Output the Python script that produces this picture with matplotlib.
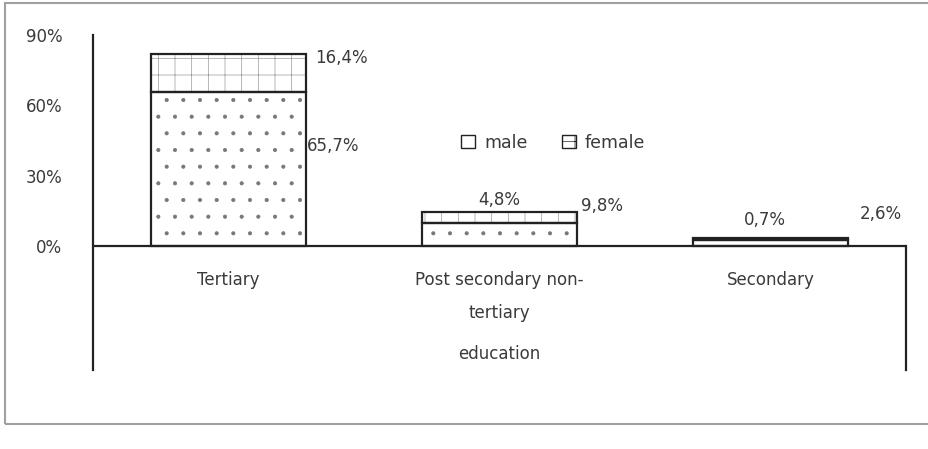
import matplotlib
matplotlib.use("Agg")
import matplotlib.pyplot as plt
from matplotlib.patches import Rectangle, Patch

# Share of graduates by level of education, split by sex (%)
categories = ["Tertiary", "Post secondary non-\ntertiary", "Secondary"]
male = [65.7, 9.8, 2.6]
female = [16.4, 4.8, 0.7]
yticks = [0, 30, 60, 90]
axis_title = "education"

plt.rcParams["font.family"] = ["DejaVu Sans"]
plt.rcParams["hatch.linewidth"] = 0.5
TXT = "#3a3a3a"

fig = plt.figure(figsize=(9.29, 4.49), dpi=100)
W, H = 929, 449
ax = fig.add_axes([93 / W, (H - 370) / H, (906 - 93) / W, (370 - 35) / H])

x = list(range(len(categories)))
bw = 0.57

# hatched fills first, then the black outlines on top
ax.bar(x, male, bw, color="white", edgecolor="#777777", hatch=".", linewidth=0)
ax.bar(x, female, bw, bottom=male, color="white", edgecolor="#999999",
       hatch="+", linewidth=0)
ax.bar(x, male, bw, fill=False, edgecolor="#222222", linewidth=1.6)
ax.bar(x, female, bw, bottom=male, fill=False, edgecolor="#222222", linewidth=1.6)

ax.set_xlim(-0.5, 2.5)
ax.set_ylim(-52.9, 90)

for s in ["top", "right", "bottom"]:
    ax.spines[s].set_visible(False)
ax.spines["left"].set_color("#222222")
ax.spines["left"].set_linewidth(1.6)
ax.axhline(0, color="#222222", lw=1.6, zorder=3)
ax.plot([2.5, 2.5], [-52.9, 0], color="#222222", lw=1.6, clip_on=False)

ax.set_yticks(yticks)
ax.set_yticklabels([f"{v}%" for v in yticks], fontsize=12, color=TXT)
ax.tick_params(axis="y", length=0, pad=22)
ax.set_xticks([])

# category names and axis title under the zero line
for xi, name in zip(x, categories):
    ax.text(xi, -10.5, name, ha="center", va="top", fontsize=12, color=TXT,
            linespacing=2.1)
ax.text(1, -46, axis_title, ha="center", va="center", fontsize=12, color=TXT)

# value labels
female_pos = [(0.32, 80.2, "left"), (1.0, 19.6, "center"), (1.98, 11.1, "center")]
male_pos = [(0.29, 42.7, "left"), (1.3, 17.1, "left"), (2.33, 13.7, "left")]
for v, (px, py, ha) in zip(female, female_pos):
    ax.text(px, py, f"{v:.1f}%".replace(".", ","), ha=ha, va="center",
            fontsize=12, color=TXT)
for v, (px, py, ha) in zip(male, male_pos):
    ax.text(px, py, f"{v:.1f}%".replace(".", ","), ha=ha, va="center",
            fontsize=12, color=TXT, clip_on=False)

handles = [Patch(facecolor="white", edgecolor="#222222", hatch="."),
           Patch(facecolor="white", edgecolor="#222222", hatch="+")]
leg = ax.legend(handles, ["male", "female"], ncol=2, frameon=False,
                loc="center", bbox_to_anchor=(0.566, 0.678), fontsize=12.5,
                handlelength=0.8, handleheight=0.8, handletextpad=0.5,
                columnspacing=2.0)
for t in leg.get_texts():
    t.set_color(TXT)

# outer chart border
fig.add_artist(Rectangle((5 / W, (H - 424) / H), 1.0, (424 - 3) / H,
                         transform=fig.transFigure, fill=False,
                         edgecolor="#a0a0a0", lw=1.5))

fig.savefig("out.png", dpi=100)
